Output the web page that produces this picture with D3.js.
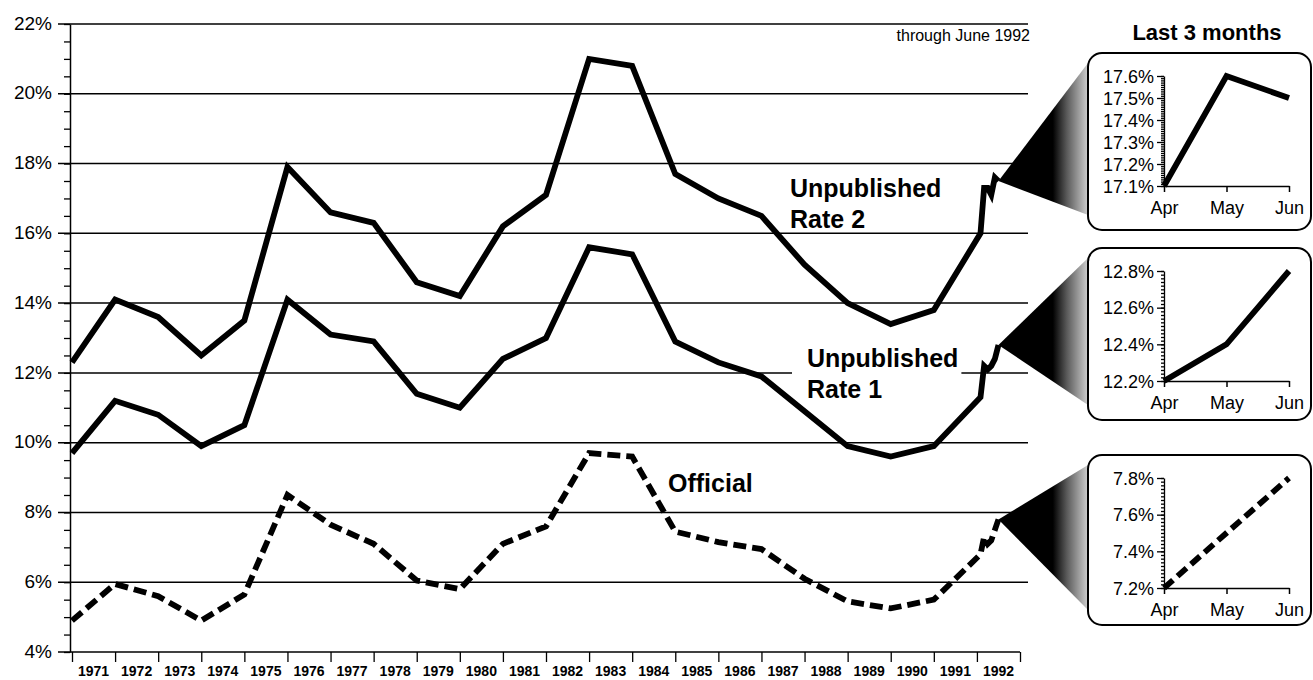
<!DOCTYPE html>
<html>
<head>
<meta charset="utf-8">
<script src="https://cdn.jsdelivr.net/npm/d3@7"></script>
<style>
  body { margin: 0; background: #fff; }
  svg { display: block; }
  text { font-family: "Liberation Sans", Arial, Helvetica, sans-serif; fill: #000; }
</style>
</head>
<body>
<svg id="chart" width="1313" height="680"></svg>
<script>
// annual values 1971-1991, then monthly 1992 (Jan-Jun)
const years = [1971, 1972, 1973, 1974, 1975, 1976, 1977, 1978, 1979, 1980, 1981,
               1982, 1983, 1984, 1985, 1986, 1987, 1988, 1989, 1990, 1991];
const rate2 = [12.3, 14.1, 13.6, 12.5, 13.5, 17.9, 16.6, 16.3, 14.6, 14.2, 16.2,
               17.1, 21.0, 20.8, 17.7, 17.0, 16.5, 15.1, 14.0, 13.4, 13.8];
const rate1 = [9.7, 11.2, 10.8, 9.9, 10.5, 14.1, 13.1, 12.9, 11.4, 11.0, 12.4,
               13.0, 15.6, 15.4, 12.9, 12.3, 11.9, 10.9, 9.9, 9.6, 9.9];
const official = [4.9, 5.95, 5.6, 4.9, 5.65, 8.5, 7.65, 7.1, 6.05, 5.8, 7.1,
                  7.6, 9.7, 9.6, 7.45, 7.15, 6.95, 6.1, 5.45, 5.25, 5.5];

const months1992 = ["Jan", "Feb", "Mar", "Apr", "May", "Jun"];
const rate2Monthly = [16.0, 17.3, 17.3, 17.1, 17.6, 17.5];
const rate1Monthly = [11.3, 12.2, 12.1, 12.2, 12.4, 12.8];
const officialMonthly = [6.8, 7.3, 7.1, 7.2, 7.5, 7.8];

const axisYears = d3.range(1971, 1993);          // labelled year bands
const yTicks = [4, 6, 8, 10, 12, 14, 16, 18, 20, 22];
const lastMonths = ["Apr", "May", "Jun"];

const svg = d3.select("#chart");

const x = d3.scaleLinear().domain([1971, 1993]).range([72, 1020]);
const y = d3.scaleLinear().domain([4, 22]).range([652, 24]);
const axisX = 70, gridEnd = 1028;

// monthly positions inside 1992
const monthT = i => 1992 + (i + 1) / 12;

function series(annual, monthly) {
  return years.map((yr, i) => ({ t: yr, v: annual[i] }))
    .concat(monthly.map((v, i) => ({ t: monthT(i), v: v })));
}
const allSeries = [
  { name: "rate2", pts: series(rate2, rate2Monthly), dash: null, monthly: rate2Monthly },
  { name: "rate1", pts: series(rate1, rate1Monthly), dash: null, monthly: rate1Monthly },
  { name: "official", pts: series(official, officialMonthly), dash: "13,6", monthly: officialMonthly }
];

// gridlines
svg.append("g").selectAll("line").data(yTicks).join("line")
  .attr("x1", axisX - 12).attr("x2", d => d === 4 ? x(1993) : gridEnd)
  .attr("y1", d => y(d)).attr("y2", d => y(d))
  .attr("stroke", "#000").attr("stroke-width", 1.5);

// y axis with half-percent ticks
const yAxis = svg.append("g").attr("transform", `translate(${axisX},0)`)
  .call(d3.axisLeft(y).tickValues(d3.range(4, 22.01, 0.5)).tickSize(6).tickSizeOuter(0).tickFormat(""));
yAxis.select(".domain").attr("stroke-width", 1.5);
yAxis.selectAll(".tick line").attr("stroke-width", 1.3);

svg.append("g").selectAll("text").data(yTicks).join("text")
  .attr("x", 52).attr("y", d => y(d)).attr("dy", "0.3em")
  .attr("text-anchor", "end").style("font-size", "19px")
  .text(d => d + "%");

// x axis
const xAxis = svg.append("g").attr("transform", `translate(0,${y(4)})`)
  .call(d3.axisBottom(x).tickValues(d3.range(1971, 1994)).tickSize(10).tickSizeOuter(0).tickFormat(""));
xAxis.select(".domain").remove();
xAxis.selectAll(".tick line").attr("stroke-width", 1.3);

svg.append("g").selectAll("text").data(axisYears).join("text")
  .attr("x", d => x(d + 0.5)).attr("y", 676)
  .attr("text-anchor", "middle").style("font-size", "14px").style("font-weight", "bold")
  .text(d => d);

svg.append("text").attr("x", 1030).attr("y", 41).attr("text-anchor", "end")
  .style("font-size", "16px").text("through June 1992");

// series labels
const labels = [
  { lines: ["Unpublished", "Rate 2"], x: 790, y: 197, knock: false },
  { lines: ["Unpublished", "Rate 1"], x: 807, y: 367, knock: true },
  { lines: ["Official"], x: 668, y: 492, knock: false }
];
labels.forEach(l => {
  const g = svg.append("g");
  const bg = g.append("rect").attr("fill", "#fff");
  const t = g.append("text").style("font-size", "25px").style("font-weight", "bold");
  l.lines.forEach((s, i) => t.append("tspan").attr("x", l.x).attr("y", l.y + i * 31).text(s));
  if (l.knock) {
    const b = t.node().getBBox();
    bg.attr("x", b.x - 15).attr("y", b.y).attr("width", b.width + 18).attr("height", b.height);
  } else bg.remove();
});

// lines
const line = d3.line().x(d => x(d.t)).y(d => y(d.v));
allSeries.forEach(s => {
  svg.append("path").datum(s.pts)
    .attr("fill", "none").attr("stroke", "#000").attr("stroke-width", 5.8)
    .attr("stroke-linejoin", "miter").attr("stroke-dasharray", s.dash)
    .attr("d", line);
});

// insets
const defs = svg.append("defs");
const grad = defs.append("linearGradient").attr("id", "fade")
  .attr("gradientUnits", "userSpaceOnUse").attr("x1", 1000).attr("x2", 1088)
  .attr("y1", 0).attr("y2", 0);
grad.append("stop").attr("offset", 0).attr("stop-color", "#000");
grad.append("stop").attr("offset", 0.6).attr("stop-color", "#000");
grad.append("stop").attr("offset", 0.76).attr("stop-color", "#5a5a5a");
grad.append("stop").attr("offset", 1).attr("stop-color", "#cfcfcf");

svg.append("text").attr("x", 1207).attr("y", 40).attr("text-anchor", "middle")
  .style("font-size", "22px").style("font-weight", "bold").text("Last 3 months");

const insets = [
  { s: allSeries[0], top: 53, h: 177, domain: [17.1, 17.6], major: 5, minor: 50, fmt: ".1f" },
  { s: allSeries[1], top: 248, h: 172, domain: [12.2, 12.8], major: 3, minor: 30, fmt: ".1f" },
  { s: allSeries[2], top: 455, h: 170, domain: [7.2, 7.8], major: 3, minor: 30, fmt: ".1f" }
];
const boxX = 1088, boxW = 223;

insets.forEach(b => {
  const last = b.s.pts[b.s.pts.length - 1];
  const ax = x(last.t), ay = y(last.v);
  svg.append("path")
    .attr("d", `M${ax},${ay}L${boxX},${b.top + 10}L${boxX},${b.top + b.h - 15}Z`)
    .attr("fill", "url(#fade)");

  svg.append("rect").attr("x", boxX).attr("y", b.top).attr("width", boxW).attr("height", b.h)
    .attr("rx", 14).attr("fill", "#fff").attr("stroke", "#000").attr("stroke-width", 2);

  const ix = d3.scalePoint().domain(lastMonths).range([1164, 1289]);
  const iy = d3.scaleLinear().domain(b.domain).range([b.top + 133, b.top + 23]);
  const base = iy(b.domain[0]);

  const ga = svg.append("g").attr("transform", "translate(1164,0)").attr("font-family", null);
  ga.call(d3.axisLeft(iy).ticks(b.minor).tickSize(3).tickSizeOuter(0).tickFormat(""));
  ga.append("g").call(d3.axisLeft(iy).ticks(b.major).tickSize(7).tickSizeOuter(0)
      .tickFormat(d => d3.format(b.fmt)(d) + "%"))
    .call(g => g.select(".domain").remove())
    .attr("font-family", null)
    .selectAll("text").style("font-size", "18px").attr("x", -10).attr("dy", "0.34em");
  ga.selectAll("line, path").attr("stroke", "#000").attr("stroke-width", 1.3);
  ga.selectAll(".tick text").attr("fill", "#000");

  const gx = svg.append("g").attr("transform", `translate(0,${base})`)
    .call(d3.axisBottom(ix).tickSize(6).tickSizeOuter(0)).attr("font-family", null);
  gx.selectAll("line, path").attr("stroke", "#000").attr("stroke-width", 1.5);
  gx.selectAll("text").style("font-size", "18px").attr("y", 15).attr("fill", "#000");

  const vals = b.s.monthly.slice(-3);
  svg.append("path").datum(vals.map((v, i) => ({ m: lastMonths[i], v: v })))
    .attr("fill", "none").attr("stroke", "#000").attr("stroke-width", 5.8)
    .attr("stroke-dasharray", b.s.dash ? "12,6" : null)
    .attr("d", d3.line().x(d => ix(d.m)).y(d => iy(d.v)));
});
</script>
</body>
</html>
